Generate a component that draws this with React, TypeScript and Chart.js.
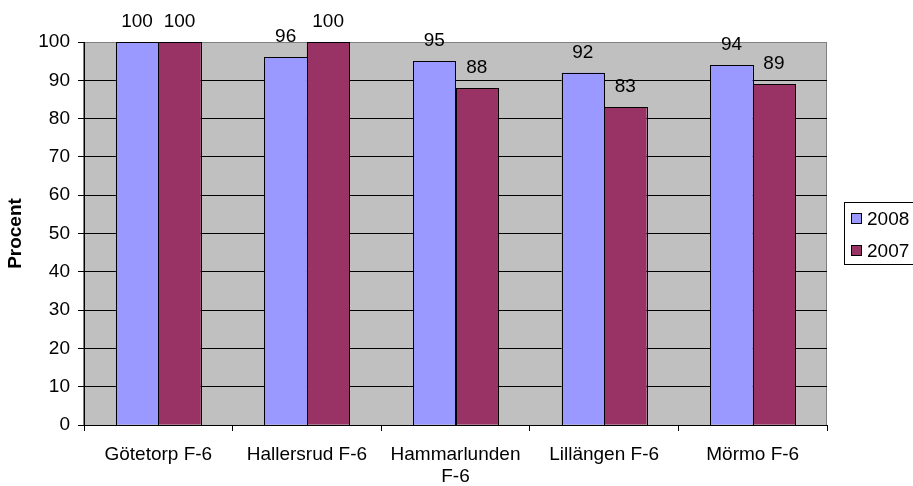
import React, { useEffect, useRef } from "react";
import { Chart, registerables } from "chart.js";

Chart.register(...registerables);

const categories: (string | string[])[] = [
  "Götetorp F-6",
  "Hallersrud F-6",
  ["Hammarlunden", "F-6"],
  "Lillängen F-6",
  "Mörmo F-6",
];
const values2008 = [100, 96, 95, 92, 94];
const values2007 = [100, 100, 88, 83, 89];
const seriesNames = ["2008", "2007"];
const seriesColors = ["#9999FF", "#993366"];
const yTitle = "Procent";

const FONT = "'Liberation Sans', Arial, sans-serif";
const FS = 19;

const plotBg = {
  id: "plotBg",
  beforeDraw(chart: any) {
    const { ctx, chartArea: a } = chart;
    ctx.save();
    ctx.fillStyle = "#C0C0C0";
    ctx.fillRect(a.left, a.top, a.right - a.left, a.bottom - a.top);
    ctx.strokeStyle = "#808080";
    ctx.lineWidth = 1;
    ctx.strokeRect(Math.round(a.left) - 0.5, Math.round(a.top) + 0.5, Math.round(a.right - a.left), Math.round(a.bottom - a.top));
    ctx.restore();
  },
};

const labelsAndLegend = {
  id: "labelsAndLegend",
  afterDatasetsDraw(chart: any) {
    const { ctx } = chart;
    ctx.save();
    // crisp bar outlines
    ctx.strokeStyle = "#000";
    ctx.lineWidth = 1;
    chart.data.datasets.forEach((_ds: any, i: number) => {
      const meta = chart.getDatasetMeta(i);
      meta.data.forEach((bar: any) => {
        const l = Math.round(bar.x - bar.width / 2) + 0.5;
        const r = Math.round(bar.x + bar.width / 2) + 0.5;
        const t = Math.round(bar.y) + 0.5;
        const b = Math.round(bar.base) + 0.5;
        ctx.strokeRect(l, t, r - l, b - t);
      });
    });
    ctx.font = `${FS}px ${FONT}`;
    ctx.fillStyle = "#000";
    ctx.textAlign = "center";
    ctx.textBaseline = "alphabetic";
    chart.data.datasets.forEach((ds: any, i: number) => {
      const meta = chart.getDatasetMeta(i);
      meta.data.forEach((bar: any, j: number) => {
        ctx.fillText(String(ds.data[j]), bar.x, bar.y - 15);
      });
    });
    // legend
    const lx = 844.5, ly = 202.5, lw = 72, lh = 62;
    ctx.fillStyle = "#FFFFFF";
    ctx.fillRect(lx, ly, lw, lh);
    ctx.strokeStyle = "#000";
    ctx.lineWidth = 1;
    ctx.strokeRect(lx, ly, lw, lh);
    const rows = [218.5, 250.5];
    seriesNames.forEach((name, i) => {
      const cy = rows[i];
      ctx.fillStyle = seriesColors[i];
      ctx.fillRect(851.5, cy - 5, 10, 10);
      ctx.strokeStyle = "#000";
      ctx.strokeRect(851.5, cy - 5, 10, 10);
      ctx.fillStyle = "#000";
      ctx.textAlign = "left";
      ctx.textBaseline = "middle";
      ctx.fillText(name, 867, cy + 1);
    });
    ctx.restore();
  },
};

export default function App() {
  const ref = useRef<HTMLCanvasElement | null>(null);
  useEffect(() => {
    document.body.style.margin = "0";
    const canvas = ref.current!;
    const chart = new Chart(canvas, {
      type: "bar",
      data: {
        labels: categories,
        datasets: [
          {
            label: seriesNames[0],
            data: values2008,
            backgroundColor: seriesColors[0],
            borderWidth: 0,
            categoryPercentage: 2 / 3.5,
            barPercentage: 1,
          },
          {
            label: seriesNames[1],
            data: values2007,
            backgroundColor: seriesColors[1],
            borderWidth: 0,
            categoryPercentage: 2 / 3.5,
            barPercentage: 1,
          },
        ],
      },
      options: {
        responsive: false,
        animation: false,
        layout: { padding: { top: 42, right: 86, left: 0, bottom: 0 } },
        plugins: {
          legend: { display: false },
          tooltip: { enabled: false },
        },
        scales: {
          x: {
            afterFit(scale: any) {
              scale.height = 61;
            },
            grid: {
              display: true,
              drawOnChartArea: false,
              drawTicks: true,
              tickLength: 6,
              color: "#000",
              offset: true,
            },
            border: { display: true, color: "#000", width: 1 },
            ticks: {
              color: "#000",
              font: { family: FONT, size: FS },
              maxRotation: 0,
              autoSkip: false,
              padding: 12,
            },
          },
          y: {
            min: 0,
            max: 100,
            afterFit(scale: any) {
              scale.width = 84;
            },
            ticks: {
              stepSize: 10,
              color: "#000",
              font: { family: FONT, size: FS },
              padding: 8,
            },
            grid: {
              color: (c: any) => (c.tick && c.tick.value === 100 ? "#808080" : "#000"),
              tickColor: "#000",
              tickLength: 6,
              drawTicks: true,
            },
            border: { display: true, color: "#000", width: 1 },
            title: {
              display: true,
              text: yTitle,
              color: "#000",
              font: { family: FONT, size: FS, weight: "bold" },
            },
          },
        },
      },
      plugins: [plotBg, labelsAndLegend],
    });
    return () => chart.destroy();
  }, []);
  return (
    <div style={{ width: 913, height: 486 }}>
      <canvas ref={ref} width={913} height={486} style={{ display: "block" }} />
    </div>
  );
}
